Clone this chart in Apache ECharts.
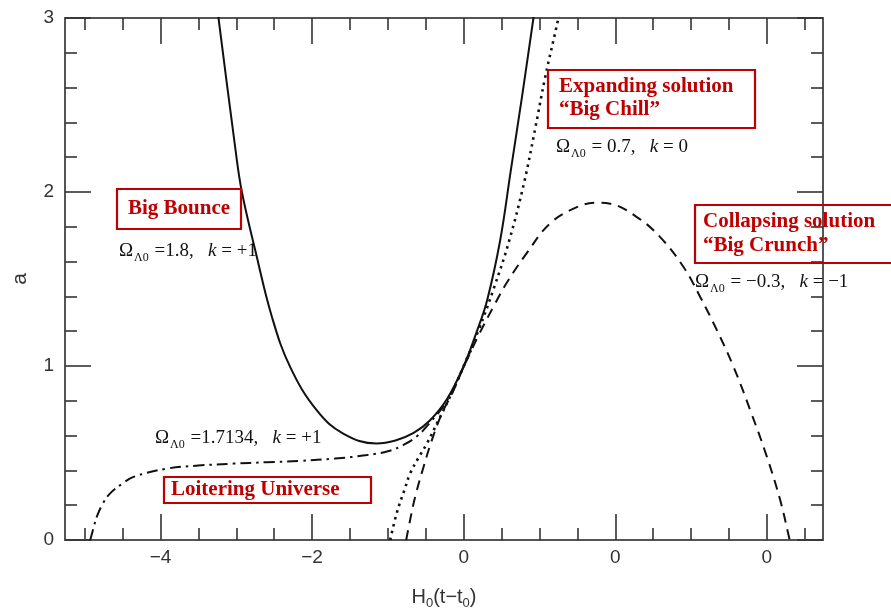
<!DOCTYPE html>
<html>
<head>
<meta charset="utf-8">
<script src="https://cdn.jsdelivr.net/npm/echarts@6/dist/echarts.min.js"></script>
<style>
html,body{margin:0;padding:0;background:#fff;}
#chart{width:891px;height:608px;}
</style>
</head>
<body>
<div id="chart"></div>
<script>
// ---- axis ticks ----
const xTickValues = [-4, -2, 0, 2, 4];
const xTickLabels = ['\u22124', '\u22122', '0', '0', '0'];
const xMinorTicks = [-5, -4.5, -3.5, -3, -2.5, -1.5, -1, -0.5, 0.5, 1, 1.5, 2.5, 3, 3.5, 4.5];
const yTickValues = [0, 1, 2, 3];
const yTickLabels = ['0', '1', '2', '3'];
const yMinorTicks = [0.2, 0.4, 0.6, 0.8, 1.2, 1.4, 1.6, 1.8, 2.2, 2.4, 2.6, 2.8];
const xMin = -5.26, xMax = 4.74, yMin = 0, yMax = 3;

// ---- curves ----
// Big Bounce: Omega_L0 = 1.8, k = +1 (solid)
const bounceX = [-3.28, -3.235, -3.01, -2.926, -2.75, -2.53, -2.29, -1.94, -1.59, -1.15, -0.9, -0.66, -0.45, -0.22, 0, 0.17, 0.31, 0.48, 0.62, 0.77, 0.92, 0.95];
const bounceA = [3.15, 3.0, 2.24, 2.0, 1.665, 1.282, 0.995, 0.746, 0.612, 0.555, 0.572, 0.615, 0.685, 0.81, 1.0, 1.195, 1.38, 1.72, 2.12, 2.55, 3.0, 3.09];
// Big Chill: Omega_L0 = 0.7, k = 0 (dotted)
const chillX = [-0.97, -0.88, -0.78, -0.706, -0.6, -0.485, -0.332, -0.17, 0, 0.2, 0.4, 0.6, 0.8, 0.95, 1.075, 1.25, 1.29];
const chillA = [0, 0.16, 0.29, 0.383, 0.47, 0.555, 0.689, 0.833, 1.0, 1.21, 1.45, 1.72, 2.06, 2.38, 2.66, 3.0, 3.09];
// Big Crunch: Omega_L0 = -0.3, k = -1 (dashed)
const crunchX = [-0.759, -0.70, -0.64, -0.53, -0.42, -0.288, -0.15, 0, 0.2, 0.416, 0.57, 0.834, 1.141, 1.493, 1.757, 1.933, 2.285, 2.592, 2.90, 3.12, 3.34, 3.56, 3.78, 4.0, 4.175, 4.285, 4.30];
const crunchA = [0, 0.13, 0.249, 0.42, 0.574, 0.727, 0.845, 0.995, 1.18, 1.36, 1.48, 1.65, 1.82, 1.913, 1.939, 1.933, 1.856, 1.741, 1.569, 1.397, 1.206, 0.995, 0.746, 0.478, 0.23, 0.03, 0];
// Loitering Universe: Omega_L0 = 1.7134, k = +1 (dash-dot)
const loiterX = [-4.927, -4.88, -4.84, -4.76, -4.664, -4.5, -4.356, -3.916, -3.5, -3.037, -2.6, -2.157, -1.7, -1.277, -1.0, -0.8, -0.62, -0.45, -0.22, 0, 0.1];
const loiterA = [0, 0.075, 0.134, 0.21, 0.268, 0.325, 0.363, 0.41, 0.428, 0.439, 0.447, 0.455, 0.468, 0.488, 0.51, 0.545, 0.595, 0.672, 0.80, 0.995, 1.09];

function pairs(xs, ys) { return xs.map((x, i) => [x, ys[i]]); }

const axisColor = '#555';
const tickColor = '#333';
const sans = 'Liberation Sans';
const serif = 'Liberation Serif';
const red = '#c00000';

function xAx(position, major, labels) {
  return {
    type: 'value', min: xMin, max: xMax, position: position, gridIndex: 0,
    axisLine: { show: major, onZero: false, lineStyle: { color: axisColor, width: 2 } },
    axisTick: { show: true, inside: true, length: major ? 26 : 12, customValues: major ? xTickValues : xMinorTicks,
                lineStyle: { color: tickColor, width: 1.6 } },
    axisLabel: labels ? {
      show: true, customValues: xTickValues, margin: 8, fontSize: 19, fontFamily: sans, color: '#333',
      formatter: function (v) { const i = xTickValues.indexOf(v); return i >= 0 ? xTickLabels[i] : ''; }
    } : { show: false },
    splitLine: { show: false }
  };
}
function yAx(position, major, labels) {
  return {
    type: 'value', min: yMin, max: yMax, position: position, gridIndex: 0,
    axisLine: { show: major, onZero: false, lineStyle: { color: axisColor, width: 2 } },
    axisTick: { show: true, inside: true, length: major ? 26 : 12, customValues: major ? yTickValues : yMinorTicks,
                lineStyle: { color: tickColor, width: 1.6 } },
    axisLabel: labels ? {
      show: true, customValues: yTickValues, margin: 11, fontSize: 19, fontFamily: sans, color: '#333',
      formatter: function (v) { const i = yTickValues.indexOf(v); return i >= 0 ? yTickLabels[i] : ''; }
    } : { show: false },
    splitLine: { show: false }
  };
}

const xAxes = [xAx('bottom', true, true), xAx('bottom', false, false), xAx('top', true, false), xAx('top', false, false)];
xAxes[0].name = '{n|H}{s|0}{n|(t\u2212t}{s|0}{n|)}';
xAxes[0].nameLocation = 'middle';
xAxes[0].nameGap = 45;
xAxes[0].nameTextStyle = {
  rich: {
    n: { fontFamily: sans, fontSize: 20, color: '#333', lineHeight: 24 },
    s: { fontFamily: sans, fontSize: 13, color: '#333', padding: [12, 0, 0, 0] }
  }
};
const yAxes = [yAx('left', true, true), yAx('left', false, false), yAx('right', true, false), yAx('right', false, false)];
yAxes[0].name = 'a';
yAxes[0].nameLocation = 'middle';
yAxes[0].nameGap = 34;
yAxes[0].nameTextStyle = { fontFamily: sans, fontSize: 21, color: '#333' };

function omegaLabel(x, y, value, kval) {
  return {
    type: 'text', x: x, y: y, z: 100,
    style: {
      text: '{t|\u03A9}{s|\u039B0}{t| ' + value + ',   }{i|k}{t| = ' + kval + '}',
      textVerticalAlign: 'middle', textAlign: 'left',
      rich: {
        t: { fontFamily: serif, fontSize: 19, fill: '#111' },
        i: { fontFamily: serif, fontSize: 19, fontStyle: 'italic', fill: '#111' },
        s: { fontFamily: serif, fontSize: 12, fill: '#111', padding: [13, 1, 0, 1] }
      }
    }
  };
}
function box(x, y, w, h) {
  return { type: 'rect', z: 99, shape: { x: x, y: y, width: w, height: h },
           style: { fill: 'none', stroke: red, lineWidth: 2.2 } };
}
function redText(x, y, txt, align) {
  return { type: 'text', x: x, y: y, z: 100,
           style: { text: txt, fontFamily: serif, fontWeight: 'bold', fontSize: 21, fill: red,
                    textAlign: align || 'left', textVerticalAlign: 'middle' } };
}

const chart = echarts.init(document.getElementById('chart'), null, { renderer: 'canvas' });
chart.setOption({
  animation: false,
  backgroundColor: '#fff',
  grid: { left: 65, right: 68, top: 18, bottom: 68, containLabel: false, outerBoundsMode: 'none' },
  xAxis: xAxes,
  yAxis: yAxes,
  series: [
    { type: 'line', name: 'Loitering', data: pairs(loiterX, loiterA), smooth: 0.4, showSymbol: false,
      lineStyle: { color: '#111', width: 2, type: [11, 5, 2.5, 5] }, z: 2 },
    { type: 'line', name: 'Big Crunch', data: pairs(crunchX, crunchA), smooth: 0.4, showSymbol: false,
      lineStyle: { color: '#111', width: 2, type: [10, 7] }, z: 2 },
    { type: 'line', name: 'Big Chill', data: pairs(chillX, chillA), smooth: 0.4, showSymbol: false,
      lineStyle: { color: '#111', width: 2.6, type: [2.5, 4.5] }, z: 2 },
    { type: 'line', name: 'Big Bounce', data: pairs(bounceX, bounceA), smooth: 0.4, showSymbol: false,
      lineStyle: { color: '#111', width: 2, type: 'solid' }, z: 3 }
  ],
  graphic: [
    box(117, 189, 124, 40), redText(179, 209, 'Big Bounce', 'center'),
    omegaLabel(119, 251, '=1.8', '+1'),
    omegaLabel(155, 438, '=1.7134', '+1'),
    box(164, 477, 207, 26), redText(171, 490, 'Loitering Universe'),
    box(548, 70, 207, 58), redText(559, 87, 'Expanding solution'), redText(559, 110, '\u201CBig Chill\u201D'),
    omegaLabel(556, 147, '= 0.7', '0'),
    box(695, 205, 205, 58), redText(703, 222, 'Collapsing solution'), redText(703, 246, '\u201CBig Crunch\u201D'),
    omegaLabel(695, 282, '= \u22120.3', '\u22121')
  ]
});
</script>
</body>
</html>
